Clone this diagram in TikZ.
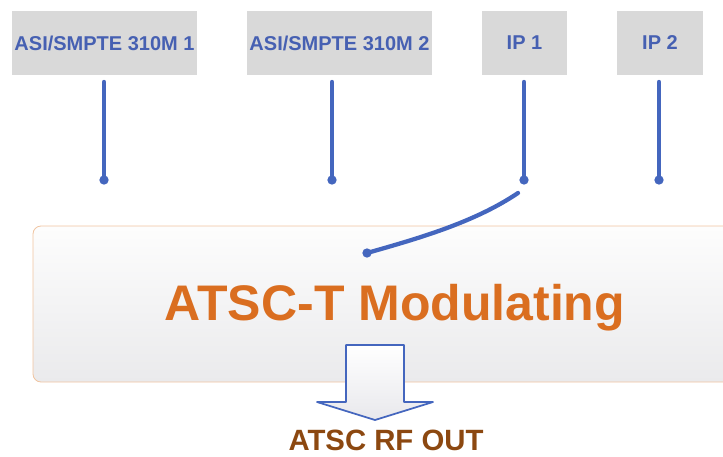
\documentclass[tikz,border=0pt]{standalone}
\usepackage{fontspec}
\setmainfont{Liberation Sans}
\definecolor{labelblue}{RGB}{70,96,178}
\definecolor{wireblue}{RGB}{68,102,190}
\definecolor{modorange}{RGB}{218,110,32}
\definecolor{outbrown}{RGB}{140,72,16}
\definecolor{edgepeach}{RGB}{240,196,160}

\begin{document}
\begin{tikzpicture}[x=0.75pt,y=-0.75pt,
        inbox/.style={fill={rgb,255:red,217;green,217;blue,217},minimum height=48pt,inner sep=0pt,
          font=\fontsize{15}{18}\selectfont\bfseries,text=labelblue},
        feed/.style={wireblue,line width=3.2pt,line cap=round},
        tip/.style={fill=wireblue}]
        \clip (0,0) rectangle (723,456);

        % Inputs
        \node[inbox,minimum width=139pt] (asi1) at (104.5,43) {ASI/SMPTE 310M 1};
        \node[inbox,minimum width=139pt] (asi2) at (339.5,43) {ASI/SMPTE 310M 2};
        \node[inbox,minimum width=64pt] (ip1) at (524.5,43) {IP 1};
        \node[inbox,minimum width=65pt] (ip2) at (660,43) {IP 2};

        % Contact points
        \coordinate (d1) at (104,180);
        \coordinate (d2) at (332,180);
        \coordinate (d3) at (524,180);
        \coordinate (d4) at (659,180);
        \foreach \n/\d in {asi1/d1,asi2/d2,ip1/d3,ip2/d4} {
          \draw[feed] ([yshift=-5pt]\n.south -| \d) -- (\d);
          \fill[tip] (\d) circle (3.5pt);
        }

        % Modulator block
        \draw[edgepeach,line width=0.6pt,rounded corners=6pt,top color={rgb,255:red,253;green,253;blue,253},
          bottom color={rgb,255:red,234;green,234;blue,236}] (33,226) rectangle (760,382);
        \node[font=\fontsize{37.5}{40}\selectfont\bfseries,text=modorange] (mod) at (395,308) {ATSC-T Modulating};

        % Switch
        \coordinate (sw1) at (518,193);
        \coordinate (sw2) at (367,253);
        \draw[feed] (sw1) .. controls (475,222) and (420,238) .. (sw2);
        \fill[tip] (sw2) circle (3.5pt);

        % Output
        \draw[wireblue,line width=1.3pt,line join=round,top color=white,bottom color={rgb,255:red,232;green,232;blue,236}]
          (346,345) -- (404,345) -- (404,402) -- (433,402) -- (375,420) -- (317,402) -- (346,402) -- cycle;
        \node[font=\fontsize{22}{24}\selectfont\bfseries,text=outbrown,inner sep=0pt] (out) at (386,440) {ATSC RF OUT};
\end{tikzpicture}
\end{document}
